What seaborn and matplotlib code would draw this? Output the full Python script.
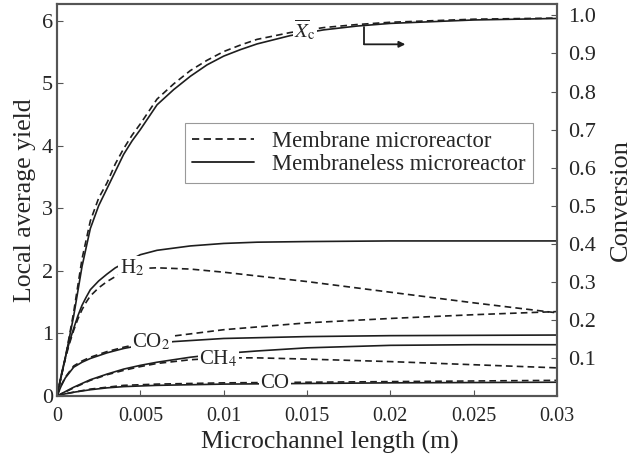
import matplotlib

matplotlib.use("Agg")
import matplotlib.pyplot as plt
from matplotlib.lines import Line2D
import pandas as pd
import seaborn as sns

sns.set_style("ticks")
plt.rcParams["font.family"] = ["Liberation Serif", "DejaVu Serif"]
plt.rcParams["mathtext.fontset"] = "stix"

INK = "#1e1e1e"
DASH = (4, 2.5)

# local average yields (left axis)
h2_x = [0, 0.00025, 0.0005, 0.00075, 0.001, 0.00125, 0.0015, 0.00175, 0.002,
        0.0025, 0.003, 0.0035, 0.005, 0.006, 0.008, 0.010, 0.012, 0.015,
        0.020, 0.025, 0.030]
h2_solid = [0, 0.33, 0.62, 0.87, 1.08, 1.28, 1.45, 1.58, 1.70,
            1.84, 1.95, 2.05, 2.26, 2.33, 2.40, 2.44, 2.46, 2.47,
            2.48, 2.48, 2.48]
h2_mem_x = [0, 0.00025, 0.0005, 0.00075, 0.001, 0.00125, 0.0015, 0.00175,
            0.002, 0.0025, 0.003, 0.0035, 0.004, 0.005, 0.006, 0.008, 0.010,
            0.012, 0.015, 0.020, 0.025, 0.030]
h2_mem = [0, 0.32, 0.60, 0.84, 1.05, 1.23, 1.38, 1.50,
          1.60, 1.73, 1.83, 1.91, 1.97, 2.04, 2.05, 2.03, 1.98,
          1.92, 1.83, 1.66, 1.49, 1.33]

co2_x = [0, 0.00025, 0.0005, 0.001, 0.0015, 0.002, 0.003, 0.004, 0.005,
         0.007, 0.010, 0.015, 0.020, 0.025, 0.030]
co2_mem = [0, 0.17, 0.30, 0.48, 0.56, 0.62, 0.71, 0.78, 0.84,
           0.96, 1.06, 1.17, 1.24, 1.30, 1.35]
co2_solid = [0, 0.16, 0.29, 0.46, 0.54, 0.60, 0.69, 0.76, 0.81,
             0.87, 0.92, 0.95, 0.965, 0.97, 0.975]

ch4_x = [0, 0.001, 0.002, 0.003, 0.004, 0.005, 0.006, 0.008, 0.010, 0.012,
         0.015, 0.020, 0.025, 0.030]
ch4_solid = [0, 0.14, 0.26, 0.35, 0.43, 0.49, 0.54, 0.62, 0.68, 0.72,
             0.77, 0.81, 0.82, 0.82]
ch4_mem = [0, 0.13, 0.25, 0.34, 0.41, 0.47, 0.52, 0.58, 0.61, 0.61,
           0.59, 0.55, 0.50, 0.45]

co_x = [0, 0.0005, 0.001, 0.002, 0.003, 0.004, 0.006, 0.008, 0.010, 0.015,
        0.020, 0.025, 0.030]
co_mem = [0, 0.035, 0.06, 0.11, 0.14, 0.17, 0.19, 0.20, 0.21, 0.22, 0.23, 0.24, 0.25]
co_solid = [0, 0.035, 0.06, 0.10, 0.13, 0.15, 0.17, 0.18, 0.19, 0.20, 0.21, 0.215, 0.22]

# conversion (right axis)
conv_x = [0, 0.0005, 0.001, 0.0015, 0.002, 0.0025, 0.003, 0.0035, 0.004,
          0.0045, 0.005, 0.006, 0.007, 0.008, 0.009, 0.010, 0.011, 0.012,
          0.014, 0.016, 0.018, 0.020, 0.025, 0.030]
conv_mem = [0, 0.10, 0.22, 0.36, 0.46, 0.52, 0.56, 0.61, 0.65,
            0.685, 0.715, 0.78, 0.82, 0.855, 0.882, 0.905, 0.922, 0.937,
            0.955, 0.968, 0.976, 0.982, 0.99, 0.993]
conv_solid = [0, 0.10, 0.21, 0.34, 0.44, 0.50, 0.545, 0.59, 0.635,
              0.67, 0.70, 0.765, 0.805, 0.84, 0.87, 0.893, 0.91, 0.925,
              0.947, 0.962, 0.972, 0.979, 0.988, 0.992]

x_ticks = [0, 0.005, 0.01, 0.015, 0.02, 0.025, 0.03]
x_ticklabels = ["0", "0.005", "0.01", "0.015", "0.02", "0.025", "0.03"]
y_ticks = [0, 1, 2, 3, 4, 5, 6]
conv_ticks = [0.1, 0.2, 0.3, 0.4, 0.5, 0.6, 0.7, 0.8, 0.9, 1.0]

species_labels = {"H2": ("H$_2$", 0.00450, 2.05),
                  "CO2": ("CO$_2$", 0.00565, 0.86),
                  "CH4": ("CH$_4$", 0.00968, 0.59),
                  "CO": ("CO", 0.01308, 0.20)}


def _frame(x, y, species, reactor):
    return pd.DataFrame({"x": x, "y": y, "species": species, "reactor": reactor})


yields = pd.concat([
    _frame(h2_x, h2_solid, "H2", "Membraneless"),
    _frame(h2_mem_x, h2_mem, "H2", "Membrane"),
    _frame(co2_x, co2_solid, "CO2", "Membraneless"),
    _frame(co2_x, co2_mem, "CO2", "Membrane"),
    _frame(ch4_x, ch4_solid, "CH4", "Membraneless"),
    _frame(ch4_x, ch4_mem, "CH4", "Membrane"),
    _frame(co_x, co_solid, "CO", "Membraneless"),
    _frame(co_x, co_mem, "CO", "Membrane"),
], ignore_index=True)
yields["series"] = yields["species"] + "_" + yields["reactor"]

conversion = pd.concat([
    _frame(conv_x, conv_solid, "Xc", "Membraneless"),
    _frame(conv_x, conv_mem, "Xc", "Membrane"),
], ignore_index=True)

dashes = {"Membrane": DASH, "Membraneless": ""}

fig = plt.figure(figsize=(6.39, 4.58), dpi=100)
ax = fig.add_axes([0.0892, 0.1354, 0.7825, 0.8559])
sns.lineplot(data=yields, x="x", y="y", units="series", style="reactor",
             dashes=dashes, estimator=None, color=INK, lw=1.2, legend=False,
             sort=False, ax=ax)
ax.set_xlim(0, 0.03)
ax.set_ylim(0, 6.27)
ax.set_xticks(x_ticks)
ax.set_xticklabels(x_ticklabels)
ax.set_yticks(y_ticks)
ax.set_xlabel("Microchannel length (m)", fontsize=18.5)
ax.xaxis.set_label_coords(0.545, -0.09)
ax.set_ylabel("Local average yield", fontsize=18.5, labelpad=4)
ax.tick_params(direction="in", length=4, color="#555")
ax.tick_params(axis="x", labelsize=14.5, pad=8)
ax.tick_params(axis="y", labelsize=16, pad=3)

ax2 = ax.twinx()
sns.lineplot(data=conversion, x="x", y="y", style="reactor", dashes=dashes,
             estimator=None, color=INK, lw=1.2, legend=False, sort=False, ax=ax2)
ax2.set_ylim(0, 1.03)
ax2.set_yticks(conv_ticks)
ax2.set_yticklabels([f"{t:.1f}" for t in conv_ticks])
ax2.set_ylabel("Conversion", fontsize=19, labelpad=10)
ax2.set_xlabel("")
ax2.tick_params(direction="in", labelsize=16, length=4, color="#555", pad=8)

for a in (ax, ax2):
    for sp in a.spines.values():
        sp.set_color("#555")
        sp.set_linewidth(1.5)

box = dict(facecolor="white", edgecolor="none", pad=1.0)
for text, tx, ty in species_labels.values():
    ax.text(tx, ty, text, fontsize=15, ha="center", va="center", bbox=box, zorder=5)
ax2.text(0.01488, 0.962, r"$\overline{X}_{\mathrm{c}}$", fontsize=15,
         ha="center", va="center", bbox=box, zorder=5)

# arrow pointing to the conversion axis
arrow_x, arrow_top, arrow_y, arrow_end = 0.01842, 0.97, 0.924, 0.0209
ax2.plot([arrow_x, arrow_x], [arrow_top, arrow_y], color=INK, lw=1.3)
ax2.annotate("", xy=(arrow_end, arrow_y), xytext=(arrow_x, arrow_y),
             arrowprops=dict(arrowstyle="-|>", color=INK, lw=1.3,
                             mutation_scale=9, shrinkA=0, shrinkB=0))

handles = [Line2D([], [], color=INK, lw=1.3, dashes=DASH),
           Line2D([], [], color=INK, lw=1.3)]
leg = ax2.legend(handles, ["Membrane microreactor", "Membraneless microreactor"],
                 loc="upper left", bbox_to_anchor=(0.255, 0.696), borderaxespad=0,
                 fontsize=16.3, handlelength=2.7, handletextpad=0.8,
                 fancybox=False, framealpha=1, edgecolor="#999",
                 labelspacing=0.1, borderpad=0.35)
leg.get_frame().set_linewidth(0.8)

fig.savefig("out.png", dpi=100)
